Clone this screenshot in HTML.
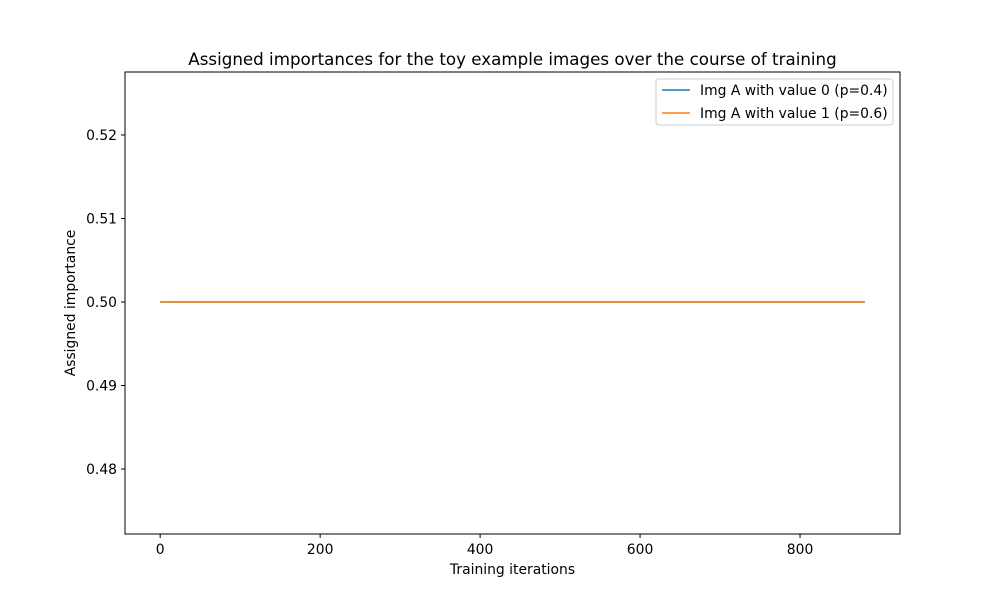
<!DOCTYPE html>
<html><head><meta charset="utf-8"><style>
body{margin:0;background:#fff;}
svg{display:block;font-family:"DejaVu Sans","Liberation Sans",sans-serif;}
</style></head><body>
<svg id="chart" width="1000" height="600" viewBox="0 0 1000 600">
<rect width="1000" height="600" fill="#fff"/>
<text x="512.5" y="65" text-anchor="middle" font-size="16.7" fill="#000">Assigned importances for the toy example images over the course of training</text>
<g id="plot"></g>
<rect x="125" y="72" width="775" height="462" fill="none" stroke="#000" stroke-width="1"/>
<text x="512.5" y="574" text-anchor="middle" font-size="13.9">Training iterations</text>
<text transform="translate(75,303) rotate(-90)" text-anchor="middle" font-size="13.9">Assigned importance</text>
<g>
<rect x="656" y="79" width="237" height="46" rx="3" fill="#fff" stroke="#ccc"/>
<line x1="662" y1="90" x2="690" y2="90" stroke="#1f77b4" stroke-width="1.5"/>
<text x="700" y="95" font-size="13.9">Img A with value 0 (p=0.4)</text>
<line x1="662" y1="113" x2="690" y2="113" stroke="#ff7f0e" stroke-width="1.5"/>
<text x="700" y="118" font-size="13.9">Img A with value 1 (p=0.6)</text>
</g>
</svg>
<script>
const iterations = [0, 100, 200, 300, 400, 500, 600, 700, 800, 881];
const seriesA0 = [0.5, 0.5, 0.5, 0.5, 0.5, 0.5, 0.5, 0.5, 0.5, 0.5];
const seriesA1 = [0.5, 0.5, 0.5, 0.5, 0.5, 0.5, 0.5, 0.5, 0.5, 0.5];
const xTicks = [0, 200, 400, 600, 800];
const yTicks = [0.48, 0.49, 0.50, 0.51, 0.52];
const yTickLabels = ["0.48", "0.49", "0.50", "0.51", "0.52"];

const X0 = 125, X1 = 900, Y0 = 534, Y1 = 72;
const xMin = -44, xMax = 925, yMin = 0.47222, yMax = 0.52754;
const sx = v => X0 + (v - xMin) / (xMax - xMin) * (X1 - X0);
const sy = v => Y0 - (v - yMin) / (yMax - yMin) * (Y0 - Y1);
const NS = "http://www.w3.org/2000/svg";
const svg = document.getElementById("chart");
const plot = document.getElementById("plot");

xTicks.forEach(t => {
  const l = document.createElementNS(NS, "line");
  l.setAttribute("x1", sx(t)); l.setAttribute("x2", sx(t));
  l.setAttribute("y1", Y0); l.setAttribute("y2", Y0 + 4);
  l.setAttribute("stroke", "#000");
  
  
  svg.appendChild(l);
  const tx = document.createElementNS(NS, "text");
  tx.setAttribute("x", sx(t)); tx.setAttribute("y", Y0 + 20);
  tx.setAttribute("text-anchor", "middle"); tx.setAttribute("font-size", "13.9");
  tx.textContent = t;
  
  
  svg.appendChild(tx);
});
yTicks.forEach((t, i) => {
  const l = document.createElementNS(NS, "line");
  l.setAttribute("x1", X0 - 4); l.setAttribute("x2", X0);
  l.setAttribute("y1", sy(t)); l.setAttribute("y2", sy(t));
  l.setAttribute("stroke", "#000");
  
  
  svg.appendChild(l);
  const tx = document.createElementNS(NS, "text");
  tx.setAttribute("x", X0 - 8); tx.setAttribute("y", sy(t) + 5);
  tx.setAttribute("text-anchor", "end"); tx.setAttribute("font-size", "13.9");
  tx.textContent = yTickLabels[i];
  
  
  svg.appendChild(tx);
});
function drawLine(vals, color, name) {
  const p = document.createElementNS(NS, "polyline");
  p.setAttribute("points", iterations.map((x, i) => sx(x) + "," + sy(vals[i])).join(" "));
  p.setAttribute("fill", "none"); p.setAttribute("stroke", color);
  p.setAttribute("stroke-width", "1.5");
  
  
  plot.appendChild(p);
}
drawLine(seriesA0, "#1f77b4", "line-img-a-value-0");
drawLine(seriesA1, "#ff7f0e", "line-img-a-value-1");
</script>
</body></html>
